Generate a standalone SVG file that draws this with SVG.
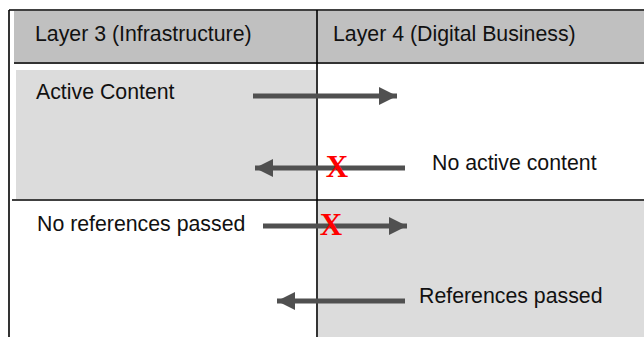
<svg xmlns="http://www.w3.org/2000/svg" width="644" height="337" viewBox="0 0 644 337">
  <defs>
    <marker id="head" markerUnits="userSpaceOnUse" markerWidth="18" markerHeight="18" refX="18" refY="9" orient="auto">
      <path d="M0,0 L18,9 L0,18 z" fill="#505050"/>
    </marker>
    <style>
      .label { font-family: "Liberation Sans", Arial, sans-serif; font-size: 21.3px; fill: #111; }
      .cross { font-family: "Liberation Serif", "Times New Roman", serif; font-size: 31px; font-weight: bold; fill: #ff0000; text-anchor: middle; }
      .arrow { stroke: #505050; stroke-width: 5; fill: none; marker-end: url(#head); }
      .rule { stroke: #000; stroke-width: 1.6; fill: none; }
    </style>
  </defs>

  <rect x="0" y="0" width="644" height="337" fill="#fff"/>

  <!-- column headers -->
  <g id="header-layer3">
    <rect x="14" y="11" width="303" height="51" fill="#c0c0c0"/>
    <text class="label" x="35" y="41">Layer 3 (Infrastructure)</text>
  </g>
  <g id="header-layer4">
    <rect x="317" y="11" width="327" height="51" fill="#c0c0c0"/>
    <text class="label" x="333" y="41">Layer 4 (Digital Business)</text>
  </g>

  <!-- row 1 cells -->
  <g id="active-content">
    <rect x="16" y="70" width="300" height="129" fill="#dcdcdc"/>
    <text class="label" x="36" y="99">Active Content</text>
  </g>
  <g id="no-active-content">
    <text class="label" x="432" y="170">No active content</text>
  </g>

  <!-- row 2 cells -->
  <g id="no-references">
    <text class="label" x="37" y="231">No references passed</text>
  </g>
  <g id="references-passed">
    <rect x="318" y="201" width="326" height="136" fill="#dcdcdc"/>
    <text class="label" x="419" y="303">References passed</text>
  </g>

  <!-- table rules -->
  <g id="grid">
    <line class="rule" x1="9" y1="10" x2="644" y2="10"/>
    <line class="rule" x1="9" y1="10" x2="9" y2="337"/>
    <line x1="14" y1="63" x2="644" y2="63" stroke="#333" stroke-width="2"/>
    <line class="rule" x1="12" y1="200" x2="644" y2="200"/>
    <line class="rule" x1="317" y1="10" x2="317" y2="337"/>
  </g>

  <!-- flows between layers -->
  <g id="connectors">
    <line class="arrow" x1="253" y1="96" x2="397" y2="96"/>
    <line class="arrow" x1="405" y1="168" x2="255" y2="168"/>
    <line class="arrow" x1="263" y1="226" x2="407" y2="226"/>
    <line class="arrow" x1="405" y1="301" x2="277" y2="301"/>
    <text class="cross" x="337" y="177">X</text>
    <text class="cross" x="331" y="235">X</text>
  </g>
</svg>
